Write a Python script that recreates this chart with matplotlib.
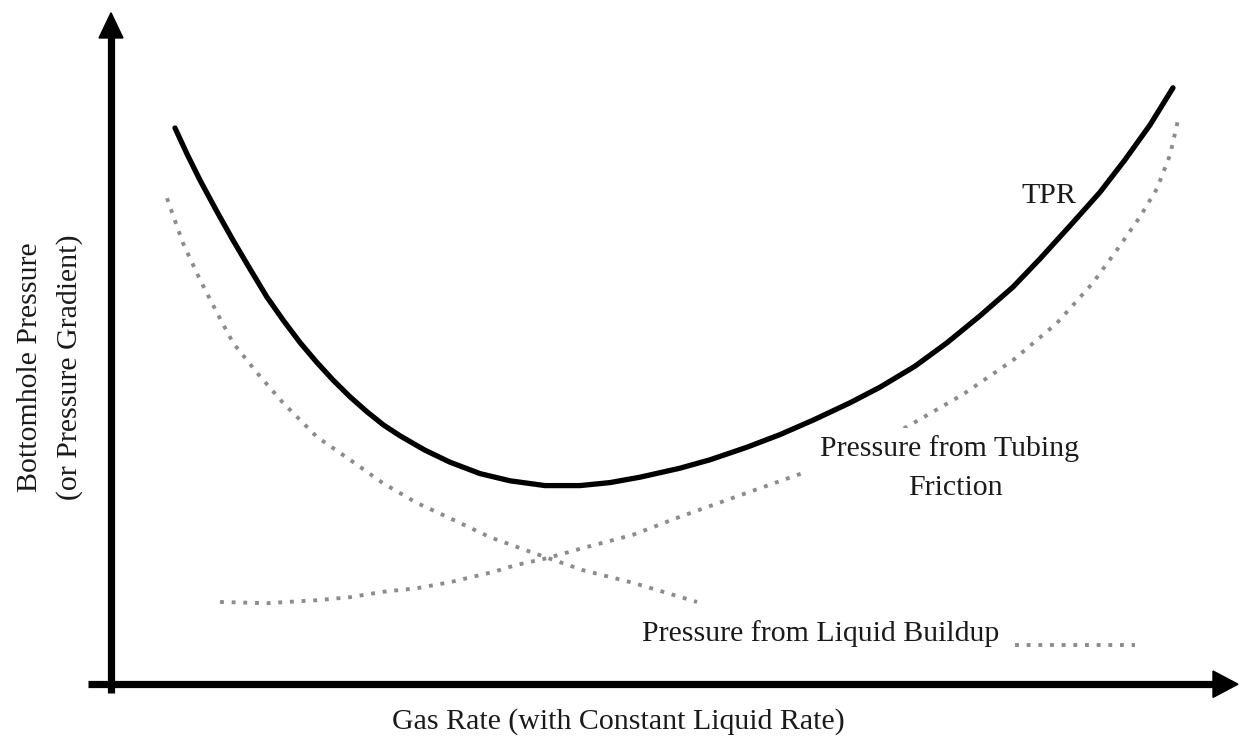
import matplotlib
matplotlib.use("Agg")
import matplotlib.pyplot as plt
from matplotlib.patches import Polygon, Rectangle

# ---- data (arbitrary units: gas rate vs. bottomhole pressure) ----
tpr_x = [6.2, 7.45, 8.7, 10.35, 12.0, 13.7, 15.4, 17.05, 18.7, 20.35, 22.0, 23.7, 25.4, 27.05,
         28.7, 31.2, 33.7, 36.7, 39.7, 43.2, 46.7, 49.7, 52.7, 56.7, 59.7, 63.4, 66.7,
         70.0, 73.7, 76.7, 80.2, 83.4, 86.7, 90.0, 92.7, 95.7, 98.7, 101.2, 103.7, 106.0]
tpr_y = [93.0, 88.5, 84.3, 79.2, 74.3, 69.5, 64.8, 60.9, 57.25, 54.0, 51.0, 48.2, 45.7, 43.5,
         41.7, 39.3, 37.3, 35.4, 34.2, 33.4, 33.4, 33.9, 34.8, 36.3, 37.7, 39.8, 41.9,
         44.3, 47.2, 49.8, 53.3, 57.2, 61.7, 66.5, 71.2, 76.7, 82.3, 87.7, 93.5, 99.7]

liquid_x = [5.4, 7.0, 8.7, 10.4, 12.0, 14.4, 17.0, 20.4, 23.7, 27.0, 30.4, 33.4, 37.7,
            42.0, 47.0, 52.0, 57.0, 58.4]
liquid_y = [81.3, 73.8, 67.7, 62.2, 57.2, 52.2, 47.2, 41.5, 37.7, 33.8, 30.5, 28.2, 24.8,
            22.2, 19.3, 17.2, 14.7, 14.0]

friction_x = [10.7, 15.4, 20.4, 23.7, 27.0, 30.4, 33.7, 38.0, 40.4, 43.4, 47.0, 52.0, 56.7,
              63.4, 69.0, 73.7, 79.4, 85.0, 90.0, 94.4, 98.0, 100.4, 102.7, 104.4, 105.7, 106.5]
friction_y = [14.0, 13.8, 14.3, 14.8, 15.7, 16.3, 17.3, 19.0, 20.2, 21.3, 23.0, 25.2, 28.2,
              32.2, 35.5, 39.0, 43.2, 48.6, 54.3, 60.5, 67.2, 72.7, 78.2, 82.9, 88.5, 94.3]

label_tpr = "TPR"
label_friction = ["Pressure from Tubing", "Friction"]
label_liquid = "Pressure from Liquid Buildup"
xlabel = "Gas Rate (with Constant Liquid Rate)"
ylabel = ["Bottomhole Pressure", "(or Pressure Gradient)"]

# ---- figure ----
FONT = "Liberation Serif"
FS = 21.5
DOT = dict(color="#8c8c8c", lw=2.8, linestyle=(0, (1, 2)), dash_capstyle="butt")

fig = plt.figure(figsize=(12.43, 7.40), dpi=100)
ax = fig.add_axes([0, 0, 1, 1])
ax.set_xlim(-11.3, 113.0)
ax.set_ylim(-9.0, 114.33)
ax.axis("off")

# axes with arrowheads
ax.plot([-0.2, -0.2], [-1.2, 108.5], color="black", lw=5.2, solid_capstyle="butt", zorder=5)
ax.add_patch(Polygon([[-0.2, 112.2], [-1.4, 108.0], [1.0, 108.0]], closed=True,
                     color="black", zorder=5))
ax.plot([-2.5, 110.2], [0.3, 0.3], color="black", lw=5.2, solid_capstyle="butt", zorder=5)
ax.add_patch(Polygon([[112.5, 0.3], [110.0, 2.5], [110.0, -1.9]], closed=True,
                     color="black", zorder=5))

# curves
ax.plot(liquid_x, liquid_y, zorder=2, **DOT)
ax.plot(friction_x, friction_y, zorder=2, **DOT)
ax.plot(tpr_x, tpr_y, color="black", lw=3.8, solid_capstyle="round",
        solid_joinstyle="round", zorder=3)

# white box behind the friction label
ax.add_patch(Rectangle((69.2, 30.2), 28.0, 12.8, facecolor="white", edgecolor="none", zorder=4))

# legend-like sample line after liquid label
ax.plot([90.2, 102.2], [6.9, 6.9], zorder=2, **DOT)

tkw = dict(family=FONT, fontsize=FS, color="#1a1a1a", zorder=6)
ax.text(93.6, (686 - 203) / 6, label_tpr, ha="center", va="baseline", **tkw)
ax.text(83.7, (686 - 456) / 6, label_friction[0], ha="center", va="baseline", **tkw)
ax.text(84.2, (686 - 495) / 6, label_friction[1], ha="center", va="baseline", **tkw)
ax.text(52.9, (686 - 641) / 6, label_liquid, ha="left", va="baseline", **tkw)
ax.text(27.9, (686 - 729) / 6, xlabel, ha="left", va="baseline", **tkw)
ax.text(-7.6, (686 - 367) / 6, ylabel[0], ha="center", va="baseline", rotation=90,
        rotation_mode="anchor", **tkw)
ax.text(-3.6, (686 - 367) / 6, ylabel[1], ha="center", va="baseline", rotation=90,
        rotation_mode="anchor", **tkw)

fig.savefig("out.png", dpi=100, facecolor="white")
